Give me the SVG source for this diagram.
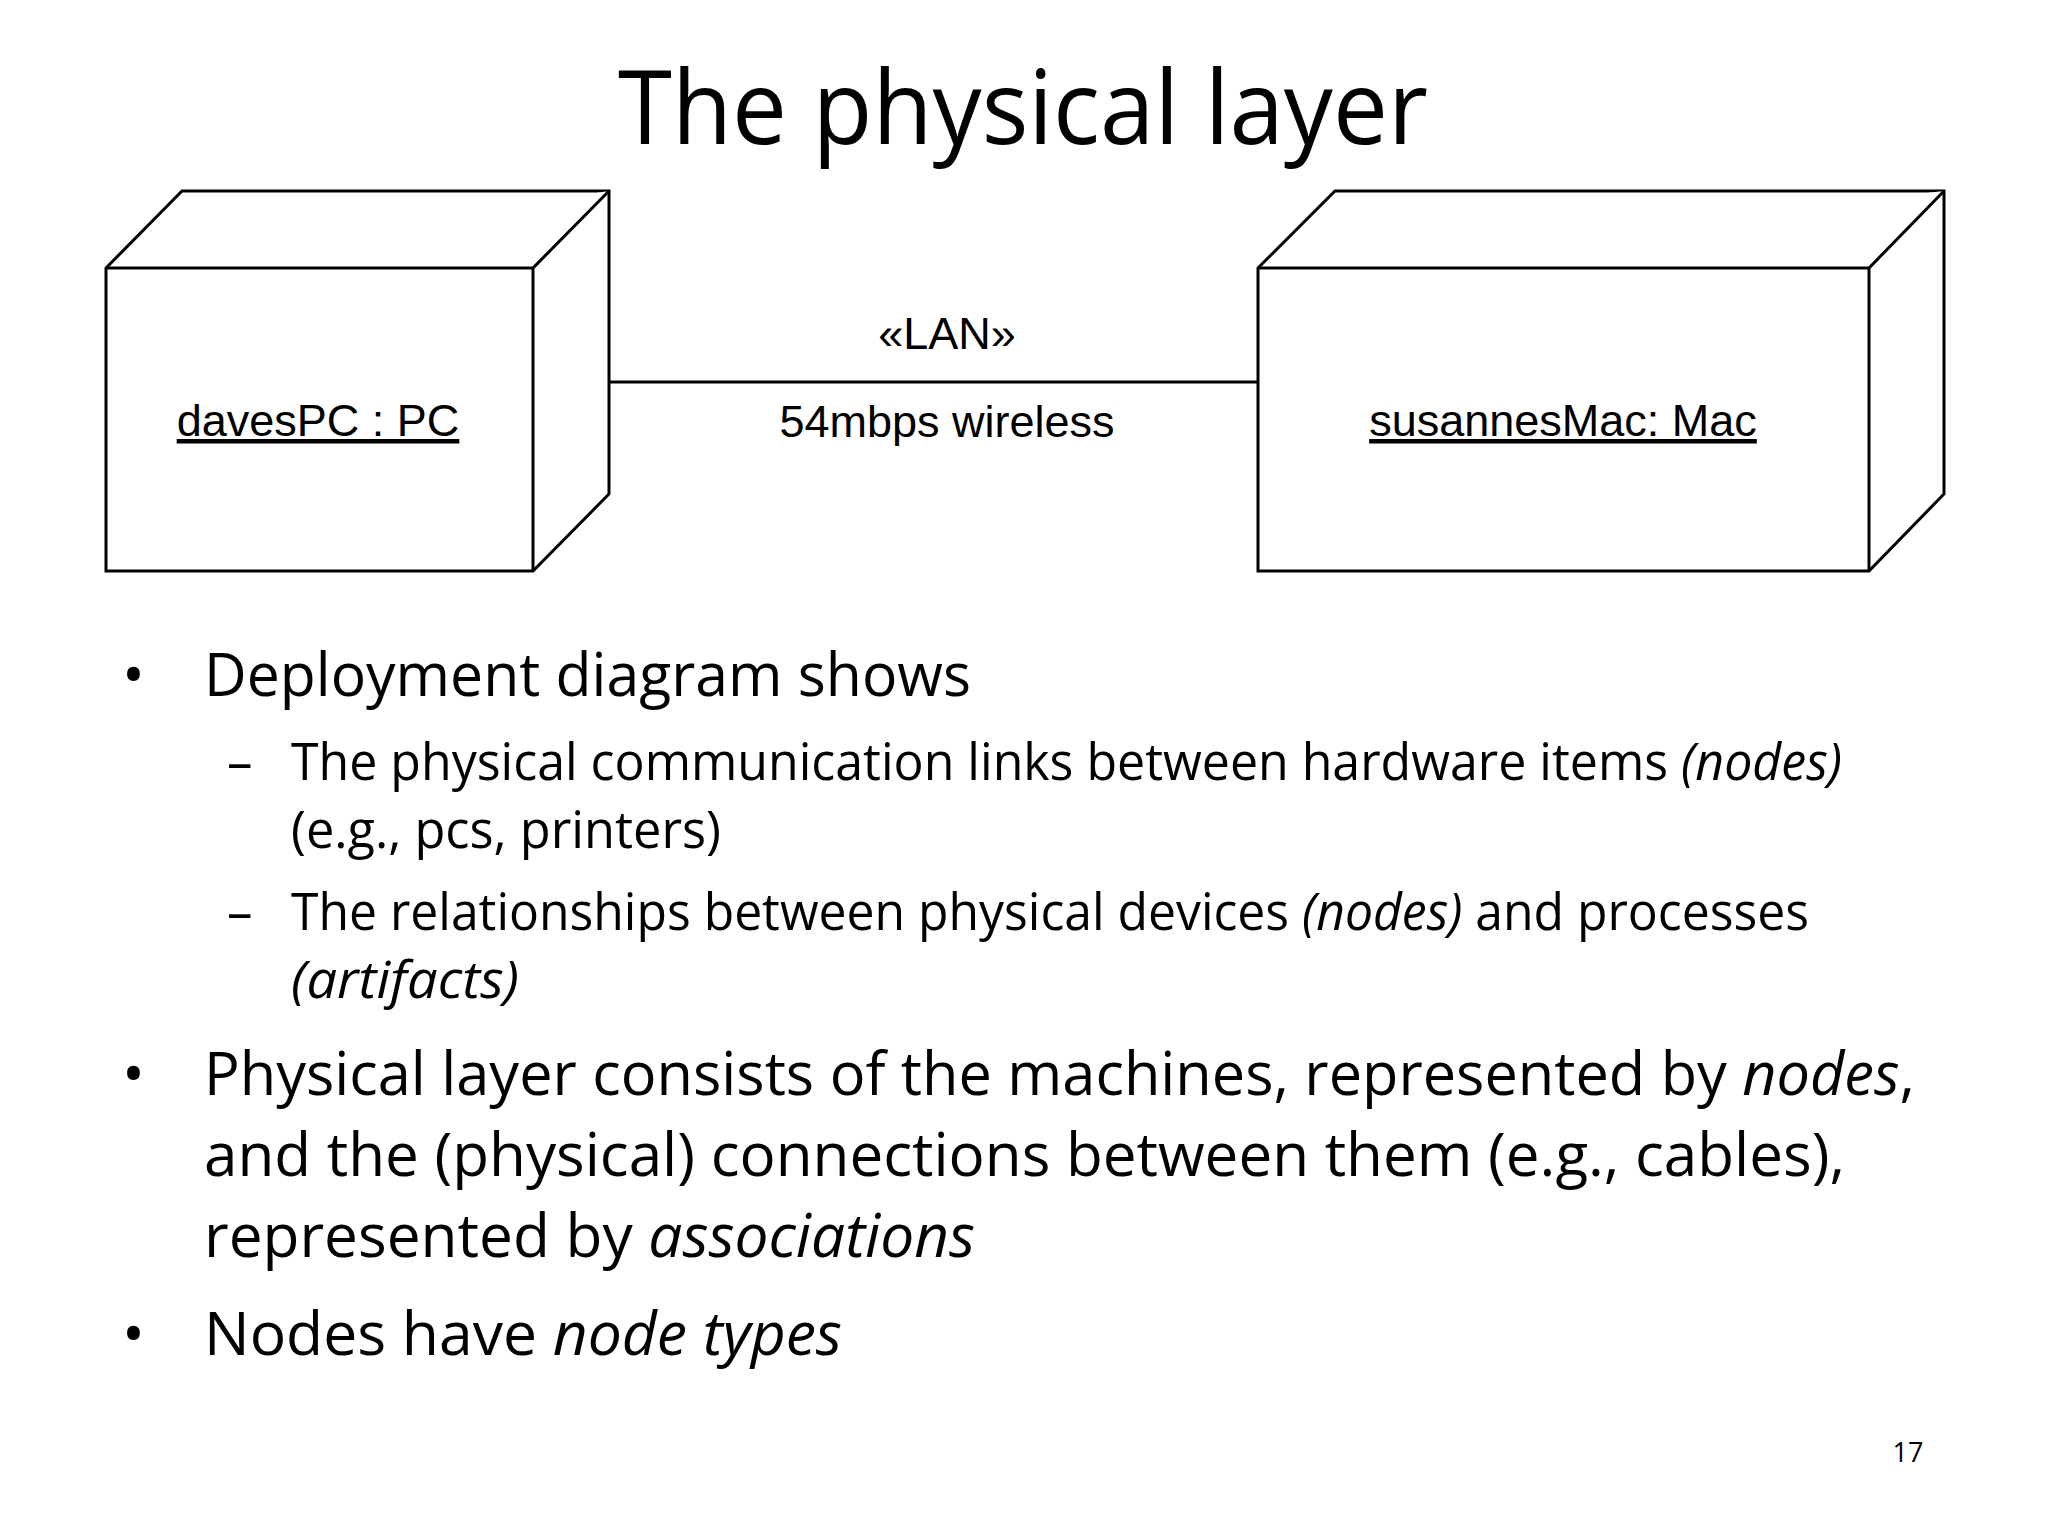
<svg xmlns="http://www.w3.org/2000/svg" width="2048" height="1536" viewBox="0 0 2048 1536">
<style>
.box{fill:#fff;stroke:#000;stroke-width:3;stroke-linejoin:miter}
.lbl{font-family:"Liberation Sans",Arial,sans-serif;font-size:45px;fill:#000;text-anchor:middle}
.u{text-decoration:underline}
.t{font-family:"Open Sans","Noto Sans",sans-serif;fill:#000}
.b{font-size:61px}
.s{font-size:51px}
.i{font-style:italic}
</style>
<rect width="2048" height="1536" fill="#fff"/>
<text class="t" x="1023" y="144" font-size="103" text-anchor="middle" textLength="810" lengthAdjust="spacingAndGlyphs">The physical layer</text>
<g id="connectors">
<line x1="609" y1="382" x2="1258" y2="382" stroke="#000" stroke-width="3"/>
<text class="lbl" x="947" y="349">«LAN»</text>
<text class="lbl" x="947" y="437">54mbps wireless</text>
</g>
<g id="davesPC">
<path class="box" d="M106 268 L182 191 L609 191 L609 494 L533 571 L106 571 Z"/>
<path class="box" d="M106 268 L533 268 L609 191 M533 268 L533 571" fill="none"/>
<text class="lbl u" x="318" y="436">davesPC : PC</text>
</g>
<g id="susannesMac">
<path class="box" d="M1258 268 L1335 191 L1944 191 L1944 494 L1869 571 L1258 571 Z"/>
<path class="box" d="M1258 268 L1869 268 L1944 191 M1869 268 L1869 571" fill="none"/>
<text class="lbl u" x="1563" y="436">susannesMac: Mac</text>
</g>
<g id="bullets">
<text class="t b" x="122" y="696">•</text>
<text class="t b" x="204" y="696" textLength="767" lengthAdjust="spacingAndGlyphs">Deployment diagram shows</text>
<text class="t s" x="227" y="780">–</text>
<text class="t s" x="291" y="780" textLength="1551" lengthAdjust="spacingAndGlyphs">The physical communication links between hardware items <tspan class="i">(nodes)</tspan></text>
<text class="t s" x="291" y="848" textLength="430" lengthAdjust="spacingAndGlyphs">(e.g., pcs, printers)</text>
<text class="t s" x="227" y="930">–</text>
<text class="t s" x="291" y="930" textLength="1518" lengthAdjust="spacingAndGlyphs">The relationships between physical devices <tspan class="i">(nodes)</tspan> and processes</text>
<text class="t s i" x="291" y="998" textLength="228" lengthAdjust="spacingAndGlyphs">(artifacts)</text>
<text class="t b" x="122" y="1095">•</text>
<text class="t b" x="204" y="1095" textLength="1711" lengthAdjust="spacingAndGlyphs">Physical layer consists of the machines, represented by <tspan class="i">nodes</tspan>,</text>
<text class="t b" x="204" y="1176" textLength="1641" lengthAdjust="spacingAndGlyphs">and the (physical) connections between them (e.g., cables),</text>
<text class="t b" x="204" y="1257" textLength="771" lengthAdjust="spacingAndGlyphs">represented by <tspan class="i">associations</tspan></text>
<text class="t b" x="122" y="1355">•</text>
<text class="t b" x="204" y="1355" textLength="638" lengthAdjust="spacingAndGlyphs">Nodes have <tspan class="i">node types</tspan></text>
</g>
<text class="t" x="1908" y="1462" font-size="27" fill="#8c8c8c" text-anchor="middle">17</text>
</svg>
